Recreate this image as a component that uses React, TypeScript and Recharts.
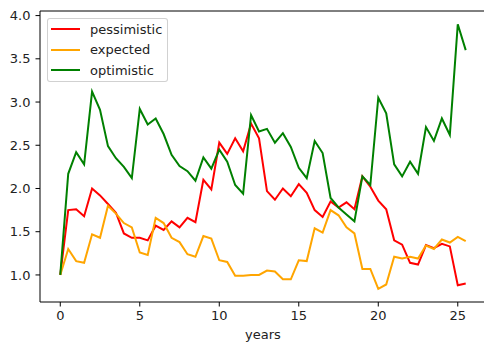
import React from "react";
import { LineChart, Line, XAxis, YAxis, ReferenceLine } from "recharts";

const years = [
  0, 0.5, 1, 1.5, 2, 2.5, 3, 3.5, 4, 4.5, 5, 5.5, 6, 6.5, 7, 7.5, 8, 8.5, 9, 9.5,
  10, 10.5, 11, 11.5, 12, 12.5, 13, 13.5, 14, 14.5, 15, 15.5, 16, 16.5, 17, 17.5,
  18, 18.5, 19, 19.5, 20, 20.5, 21, 21.5, 22, 22.5, 23, 23.5, 24, 24.5, 25, 25.5,
];

const pessimistic = [
  1.0, 1.75, 1.76, 1.68, 2.0, 1.92, 1.82, 1.72, 1.48, 1.43, 1.43, 1.4, 1.57, 1.52,
  1.62, 1.55, 1.66, 1.61, 2.1, 1.99, 2.53, 2.4, 2.58, 2.43, 2.75, 2.58, 1.97, 1.87,
  2.0, 1.91, 2.05, 1.95, 1.75, 1.67, 1.85, 1.78, 1.84, 1.76, 2.14, 2.02, 1.86, 1.76,
  1.4, 1.35, 1.14, 1.12, 1.345, 1.31, 1.36, 1.33, 0.88, 0.9,
];

const expected = [
  1.0, 1.3, 1.16, 1.14, 1.47, 1.43, 1.8, 1.71, 1.6, 1.55, 1.26, 1.23, 1.66, 1.6,
  1.43, 1.38, 1.24, 1.21, 1.45, 1.42, 1.17, 1.15, 0.99, 0.99, 1.0, 1.0, 1.05, 1.04,
  0.95, 0.95, 1.17, 1.16, 1.54, 1.49, 1.75, 1.69, 1.55, 1.48, 1.07, 1.07, 0.84, 0.89,
  1.21, 1.19, 1.21, 1.19, 1.34, 1.3, 1.41, 1.375, 1.44, 1.39,
];

const optimistic = [
  1.0, 2.17, 2.42, 2.28, 3.12, 2.91, 2.49, 2.35, 2.25, 2.12, 2.92, 2.74, 2.81, 2.63,
  2.39, 2.26, 2.2, 2.09, 2.36, 2.23, 2.45, 2.31, 2.04, 1.94, 2.85, 2.66, 2.69, 2.53,
  2.64, 2.48, 2.24, 2.12, 2.55, 2.41, 1.89, 1.78, 1.7, 1.62, 2.14, 2.04, 3.05, 2.87,
  2.28, 2.14, 2.31, 2.17, 2.71, 2.55, 2.81, 2.62, 3.9, 3.6,
];

const xTicks = [0, 5, 10, 15, 20, 25];
const yTicks = [1.0, 1.5, 2.0, 2.5, 3.0, 3.5, 4.0];

const series = [
  { key: "pessimistic", color: "#ff0000" },
  { key: "expected", color: "#ffa500" },
  { key: "optimistic", color: "#008000" },
];

const data = years.map((x, i) => ({
  x,
  pessimistic: pessimistic[i],
  expected: expected[i],
  optimistic: optimistic[i],
}));

const font = "'DejaVu Sans', sans-serif";
const tickStyle = { fontSize: 13, fill: "#222", fontFamily: font };

// matplotlib-style legend box, drawn over the chart
function LegendBox() {
  return (
    <div
      style={{
        position: "absolute",
        left: 47,
        top: 18,
        width: 119,
        height: 62,
        border: "1px solid rgba(204,204,204,0.9)",
        borderRadius: 3,
        background: "rgba(255,255,255,0.8)",
        fontFamily: font,
        fontSize: 13,
        color: "#222",
      }}
    >
      {series.map((s, i) => (
        <div
          key={s.key}
          style={{
            position: "absolute",
            left: 0,
            top: 1.5 + i * 20.5,
            height: 17,
            display: "flex",
            alignItems: "center",
            whiteSpace: "nowrap",
          }}
        >
          <div style={{ marginLeft: 3, width: 29, height: 2, background: s.color }} />
          <span style={{ marginLeft: 10, lineHeight: "17px" }}>{s.key}</span>
        </div>
      ))}
    </div>
  );
}

export default function App() {
  return (
    <div
      style={{
        position: "absolute",
        left: 0,
        top: 0,
        width: 484,
        height: 346,
        overflow: "hidden",
        background: "#fff",
      }}
    >
      <LineChart
        width={486}
        height={346}
        data={data}
        margin={{ top: 11, right: 0, bottom: 0, left: 0 }}
      >
        <XAxis
          dataKey="x"
          type="number"
          domain={[-1.275, 26.775]}
          allowDataOverflow
          ticks={xTicks}
          height={44}
          tick={tickStyle}
          tickSize={4.5}
          tickMargin={4}
          axisLine={{ stroke: "#000", strokeWidth: 1 }}
          tickLine={{ stroke: "#000", strokeWidth: 1 }}
          label={{
            value: "years",
            position: "insideBottom",
            offset: 7,
            style: { fontSize: 13, fill: "#222", fontFamily: font },
          }}
        />
        <YAxis
          type="number"
          domain={[0.687, 4.053]}
          allowDataOverflow
          ticks={yTicks}
          width={40}
          tick={tickStyle}
          tickFormatter={(v: number) => v.toFixed(1)}
          tickSize={4.5}
          tickMargin={5}
          axisLine={{ stroke: "#000", strokeWidth: 1 }}
          tickLine={{ stroke: "#000", strokeWidth: 1 }}
        />
        <ReferenceLine y={4.053} stroke="#000" strokeWidth={1} />
        {series.map((s) => (
          <Line
            key={s.key}
            dataKey={s.key}
            type="linear"
            stroke={s.color}
            strokeWidth={2}
            dot={false}
            activeDot={false}
            isAnimationActive={false}
          />
        ))}
      </LineChart>
      <LegendBox />
    </div>
  );
}
